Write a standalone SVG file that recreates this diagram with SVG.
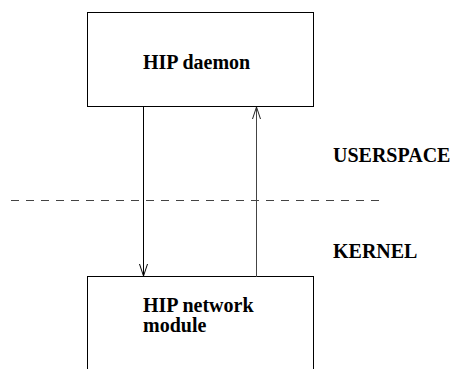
<svg xmlns="http://www.w3.org/2000/svg" width="452" height="369" viewBox="0 0 452 369">
<style>
.box{fill:#fff;stroke:#000;stroke-width:1}
.t{font-family:"Liberation Serif","Times New Roman",serif;font-weight:bold;font-size:20px;fill:#000}
.c{fill:none;stroke-width:1}
</style>
<rect width="452" height="369" fill="#fff"/>
<g id="daemon">
<rect class="box" x="87.5" y="12.5" width="226" height="94"/>
<text class="t" x="143" y="69">HIP daemon</text>
</g>
<g id="netmod">
<rect class="box" x="87.5" y="276.5" width="226" height="100"/>
<text class="t" x="143" y="312" font-size="19.5">HIP network</text>
<text class="t" x="143" y="332" font-size="19.5">module</text>
</g>
<g id="labels">
<text class="t" x="333" y="162">USERSPACE</text>
<text class="t" x="333" y="258">KERNEL</text>
</g>
<g id="connectors">
<line x1="11" y1="200.5" x2="384" y2="200.5" stroke="#444" stroke-width="1" stroke-dasharray="8 7"/>
<line class="c" x1="143.5" y1="106" x2="143.5" y2="276" stroke="#000"/>
<polyline class="c" points="139.5,264 143.5,276 147.5,264" stroke="#000"/>
<line class="c" x1="256.5" y1="277" x2="256.5" y2="107" stroke="#444" stroke-width="1.3"/>
<polyline class="c" points="252.5,119 256.5,107 260.5,119" stroke="#222"/>
</g>
</svg>
